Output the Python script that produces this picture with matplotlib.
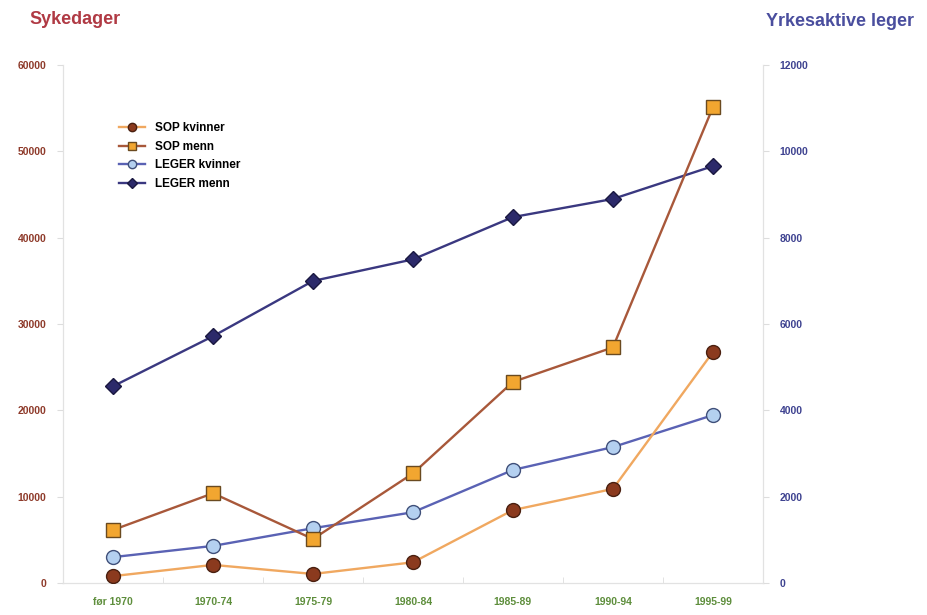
import matplotlib.pyplot as plt

plt.rcParams['font.family'] = ['Liberation Sans', 'DejaVu Sans']

perioder = ['før 1970', '1970-74', '1975-79', '1980-84', '1985-89', '1990-94', '1995-99']
sop_kvinner = [800, 2100, 1050, 2400, 8450, 10900, 26750]
sop_menn = [6150, 10400, 5100, 12700, 23300, 27300, 55100]
leger_kvinner = [600, 860, 1270, 1640, 2620, 3150, 3890]
leger_menn = [4560, 5720, 7000, 7500, 8480, 8900, 9660]

x = list(range(len(perioder)))

fig = plt.figure(figsize=(9.28, 6.15), dpi=100)
ax = fig.add_axes([0.068, 0.052, 0.754, 0.842])
ax2 = ax.twinx()

l1, = ax.plot(x, sop_kvinner, color='#F0A860', lw=1.7, marker='o', ms=10,
              mfc='#8B3A1E', mec='#4A2010', mew=1, label='SOP kvinner', zorder=3)
l2, = ax.plot(x, sop_menn, color='#A8583A', lw=1.7, marker='s', ms=10,
              mfc='#F2A630', mec='#6A4A20', mew=1, label='SOP menn', zorder=3)
l3, = ax2.plot(x, leger_kvinner, color='#5A62B4', lw=1.7, marker='o', ms=10,
               mfc='#B4D0F0', mec='#40507A', mew=1, label='LEGER kvinner', zorder=3)
l4, = ax2.plot(x, leger_menn, color='#3A3880', lw=1.7, marker='D', ms=8.5,
               mfc='#2C2A6A', mec='#1A1840', mew=1, label='LEGER menn', zorder=3)

ax.set_xlim(-0.5, 6.5)
ax.set_ylim(0, 60000)
ax2.set_ylim(0, 12000)
ax.set_yticks(range(0, 60001, 10000))
ax2.set_yticks(range(0, 12001, 2000))

ax.set_xticks(x)
ax.set_xticks([i + 0.5 for i in x[:-1]], minor=True)
ax.set_xticklabels(perioder, color='#5E8E3C', fontsize=7.5, fontweight='bold')
ax.tick_params(axis='x', which='major', length=0, pad=10)
ax.tick_params(axis='x', which='minor', length=4, color='#DDDDDD', direction='in')
ax.tick_params(axis='y', length=4, color='#DDDDDD', labelsize=7.5, labelcolor='#8E3A2A', pad=8)
ax2.tick_params(axis='y', length=4, color='#DDDDDD', labelsize=7.5, labelcolor='#3E4290', pad=8)
for t in ax.get_yticklabels() + ax2.get_yticklabels():
    t.set_fontweight('bold')

for a in (ax, ax2):
    a.spines['top'].set_visible(False)
    for s in ['left', 'right', 'bottom']:
        a.spines[s].set_color('#E2E2E2')

ax.set_zorder(ax2.get_zorder() + 1)
ax.patch.set_visible(False)

fig.text(0.032, 0.968, 'Sykedager', color='#B03A44', fontsize=13, fontweight='bold', va='center')
fig.text(0.985, 0.965, 'Yrkesaktive leger', color='#4A4E9E', fontsize=13, fontweight='bold',
         va='center', ha='right')

ax.legend(handles=[l1, l2, l3, l4], loc='upper left', bbox_to_anchor=(0.065, 0.91),
          frameon=False, handlelength=2.2, markerscale=0.6,
          labelspacing=0.55, prop={'weight': 'bold', 'size': 8.5})

fig.savefig('out.png', dpi=100)
